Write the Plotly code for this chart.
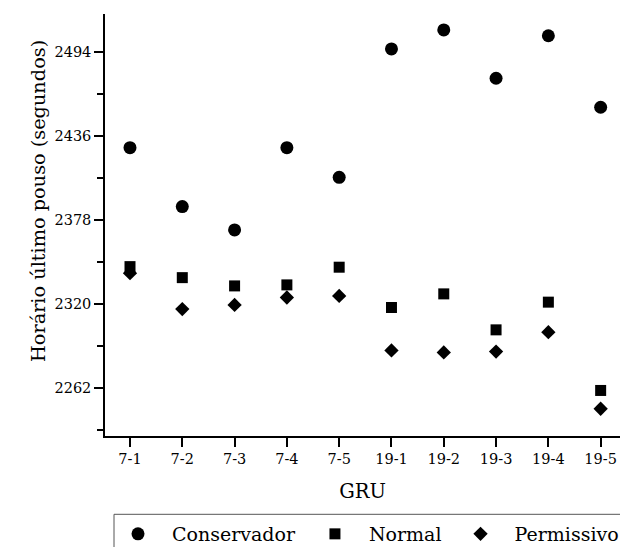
import plotly.graph_objects as go

categories = ["7-1", "7-2", "7-3", "7-4", "7-5", "19-1", "19-2", "19-3", "19-4", "19-5"]
conservador = [2427.8, 2387.2, 2371.1, 2427.8, 2407.4, 2495.9, 2509.0, 2475.7, 2505.0, 2455.7]
normal = [2345.8, 2338.2, 2332.5, 2333.2, 2345.4, 2317.6, 2327.0, 2302.2, 2321.3, 2260.4]
permissivo = [2341.3, 2316.5, 2319.4, 2324.5, 2325.6, 2288.0, 2286.6, 2287.2, 2300.6, 2247.8]
y_ticks = [2262, 2320, 2378, 2436, 2494]

FONT = "DejaVu Serif"

fig = go.Figure()
fig.add_trace(go.Scatter(x=categories, y=conservador, mode="markers", name="Conservador",
                         marker=dict(symbol="circle", size=13, color="black")))
fig.add_trace(go.Scatter(x=categories, y=normal, mode="markers", name="Normal",
                         marker=dict(symbol="square", size=11, color="black")))
fig.add_trace(go.Scatter(x=categories, y=permissivo, mode="markers", name="Permissivo",
                         marker=dict(symbol="diamond", size=11, color="black")))

W, H = 620, 547
ml, mr, mt, mb = 105, 0, 14, 111
pw, ph = W - ml - mr, H - mt - mb

def px_x(x):
    return (x - ml) / pw

def px_y(y):
    return (H - mb - y) / ph

fig.update_layout(
    width=W, height=H,
    margin=dict(l=ml, r=mr, t=mt, b=mb, autoexpand=False),
    paper_bgcolor="white", plot_bgcolor="white",
    font=dict(family=FONT, color="black"),
    showlegend=True,
    legend=dict(orientation="h", x=px_x(104), y=px_y(534), xanchor="left", yanchor="middle",
                font=dict(family=FONT, size=19, color="black"), itemwidth=58,
                bgcolor="rgba(0,0,0,0)", borderwidth=0),
    xaxis=dict(type="category", categoryorder="array", categoryarray=categories,
               range=[-0.478, 9.37], showline=True, linecolor="black", linewidth=1.5,
               ticks="outside", ticklen=9, tickwidth=1.5, tickcolor="black",
               tickfont=dict(family=FONT, size=14.5, color="black"),
               showgrid=False, zeroline=False,
               title=dict(text="GRU", font=dict(family=FONT, size=19.5, color="black"), standoff=18)),
    yaxis=dict(range=[2229, 2520], tickmode="array", tickvals=y_ticks,
               ticktext=[str(v) for v in y_ticks],
               showline=True, linecolor="black", linewidth=1.5,
               ticks="outside", ticklen=9, tickwidth=1.5, tickcolor="black",
               tickfont=dict(family=FONT, size=14.5, color="black"),
               minor=dict(tick0=2233, dtick=29, ticks="outside", ticklen=6, tickwidth=1.5, tickcolor="black"),
               showgrid=False, zeroline=False),
    annotations=[dict(text="Horário último pouso (segundos)", textangle=-90,
                      x=px_x(25), y=px_y(201.5), xref="paper", yref="paper",
                      showarrow=False, font=dict(family=FONT, size=19.3, color="black"))],
    shapes=[
        dict(type="line", xref="paper", yref="paper", x0=px_x(114), x1=px_x(620),
             y0=px_y(514.3), y1=px_y(514.3), line=dict(color="#555555", width=1)),
        dict(type="line", xref="paper", yref="paper", x0=px_x(114), x1=px_x(114),
             y0=px_y(514.3), y1=px_y(547), line=dict(color="#555555", width=1)),
    ],
)

fig.write_html("out.html", config={"displayModeBar": False},
               post_script="document.body.style.margin='0px';document.body.style.overflow='hidden';")
